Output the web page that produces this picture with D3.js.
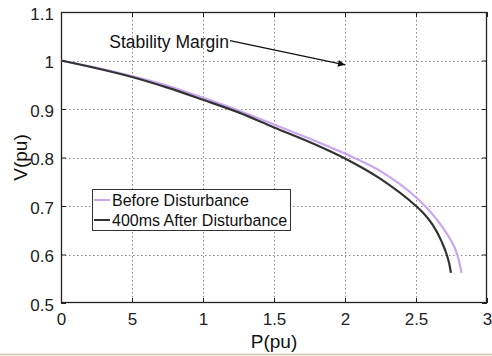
<!DOCTYPE html>
<html>
<head>
<meta charset="utf-8">
<script src="https://cdn.jsdelivr.net/npm/d3@7"></script>
<style>
  html, body { margin: 0; padding: 0; background: #fff; }
  svg { display: block; font-family: "Liberation Sans", Arial, sans-serif; }
</style>
</head>
<body>
<svg id="chart" width="492" height="356"></svg>
<script>
// P-V curves: active power P (pu) against bus voltage V (pu)
const beforeP = [0, 0.25, 0.5, 0.75, 1.0, 1.25, 1.5, 1.75, 2.0, 2.25, 2.5, 2.563, 2.63, 2.69, 2.74, 2.775, 2.79, 2.81, 2.82];
const beforeV = [1.0, 0.985, 0.968, 0.948, 0.923, 0.897, 0.868, 0.839, 0.808, 0.772, 0.718, 0.700, 0.678, 0.655, 0.632, 0.612, 0.600, 0.578, 0.562];

const afterP = [0, 0.25, 0.5, 0.75, 1.0, 1.25, 1.5, 1.75, 2.0, 2.25, 2.5, 2.55, 2.62, 2.68, 2.716, 2.735, 2.746];
const afterV = [1.0, 0.984, 0.966, 0.944, 0.919, 0.893, 0.862, 0.832, 0.798, 0.756, 0.700, 0.686, 0.660, 0.627, 0.600, 0.580, 0.562];

const seriesNames = ["Before Disturbance", "400ms After Disturbance"];
const seriesColors = ["#c9a6f4", "#333333"];

const xTicks = [0, 0.5, 1, 1.5, 2, 2.5, 3];
const xTickLabels = ["0", "5", "1", "1.5", "2", "2.5", "3"];
const yTicks = [0.5, 0.6, 0.7, 0.8, 0.9, 1.0, 1.1];
const yTickLabels = ["0.5", "0.6", "0.7", "0.8", "0.9", "1", "1.1"];

// annotation: text anchor point and arrow tip, in data units
const noteText = "Stability Margin";
const noteFrom = [1.19, 1.041];
const noteTo = [2.0, 0.991];

const svg = d3.select("#chart");
const plotL = 61, plotR = 487, plotT = 12, plotB = 303;

const x = d3.scaleLinear().domain([0, 3]).range([plotL, plotR]);
const y = d3.scaleLinear().domain([0.5, 1.1]).range([plotB, plotT]);

// grid
const grid = svg.append("g").attr("stroke", "#8a8a8a").attr("stroke-width", 1)
  .attr("stroke-dasharray", "1.5,2.5");
grid.selectAll("line.gx").data(xTicks.slice(1, -1)).join("line")
  .attr("x1", d => Math.round(x(d)) + 0.5).attr("x2", d => Math.round(x(d)) + 0.5)
  .attr("y1", plotT).attr("y2", plotB);
grid.selectAll("line.gy").data(yTicks.slice(1, -1)).join("line")
  .attr("y1", d => Math.round(y(d)) + 0.5).attr("y2", d => Math.round(y(d)) + 0.5)
  .attr("x1", plotL).attr("x2", plotR);

// axes with inward ticks on all four sides
const fmtX = (d, i) => xTickLabels[i];
const fmtY = (d, i) => yTickLabels[i];
const axB = svg.append("g").attr("transform", `translate(0,${plotB})`)
  .call(d3.axisBottom(x).tickValues(xTicks).tickFormat(fmtX).tickSizeInner(-5).tickSizeOuter(0).tickPadding(10));
const axL = svg.append("g").attr("transform", `translate(${plotL},0)`)
  .call(d3.axisLeft(y).tickValues(yTicks).tickFormat(fmtY).tickSizeInner(-5).tickSizeOuter(0).tickPadding(7));
const axT = svg.append("g").attr("transform", `translate(0,${plotT})`)
  .call(d3.axisTop(x).tickValues(xTicks).tickFormat("").tickSizeInner(-5).tickSizeOuter(0));
const axR = svg.append("g").attr("transform", `translate(${plotR},0)`)
  .call(d3.axisRight(y).tickValues(yTicks).tickFormat("").tickSizeInner(-5).tickSizeOuter(0));
[axB, axL, axT, axR].forEach(a => {
  a.select(".domain").remove();
  a.selectAll(".tick line").attr("stroke", "#222");
  a.selectAll("text").attr("fill", "#222").style("font-size", "17px")
    .style("font-family", "'Liberation Sans', Arial, sans-serif");
});
axB.selectAll("text").attr("dy", "0.71em");
axL.selectAll("text").attr("dy", "0.42em");

// plot frame
svg.append("rect").attr("x", plotL + 0.5).attr("y", plotT + 0.5)
  .attr("width", plotR - plotL - 1).attr("height", plotB - plotT - 1)
  .attr("fill", "none").attr("stroke", "#222").attr("stroke-width", 1.3);

// curves
const line = d3.line().x(d => x(d[0])).y(d => y(d[1])).curve(d3.curveMonotoneX);
const series = [
  d3.zip(beforeP, beforeV),
  d3.zip(afterP, afterV)
];
svg.append("g").selectAll("path").data(series).join("path")
  .attr("d", line)
  .attr("fill", "none")
  .attr("stroke", (d, i) => seriesColors[i])
  .attr("stroke-width", 2.2)
  .attr("stroke-linejoin", "round");

// annotation with arrow
svg.append("defs").append("marker")
  .attr("id", "arrowhead").attr("viewBox", "0 0 10 10")
  .attr("refX", 10).attr("refY", 5)
  .attr("markerWidth", 9).attr("markerHeight", 7)
  .attr("markerUnits", "userSpaceOnUse")
  .attr("orient", "auto")
  .append("path").attr("d", "M0,0 L10,5 L0,10 Z").attr("fill", "#111");
svg.append("line")
  .attr("x1", x(noteFrom[0])).attr("y1", y(noteFrom[1]))
  .attr("x2", x(noteTo[0])).attr("y2", y(noteTo[1]))
  .attr("stroke", "#111").attr("stroke-width", 1.1)
  .attr("marker-end", "url(#arrowhead)");
svg.append("text")
  .attr("x", x(noteFrom[0]) - 1).attr("y", y(noteFrom[1]) + 7)
  .attr("text-anchor", "end")
  .attr("fill", "#111").style("font-size", "17.5px")
  .text(noteText);

// legend
const lg = svg.append("g").attr("transform", "translate(92,189)");
lg.append("rect").attr("x", 0.5).attr("y", 0.5).attr("width", 198).attr("height", 41)
  .attr("fill", "#fff").attr("stroke", "#333").attr("stroke-width", 1);
seriesNames.forEach((name, i) => {
  const ry = 11 + i * 20;
  lg.append("line").attr("x1", 2).attr("x2", 18).attr("y1", ry).attr("y2", ry)
    .attr("stroke", seriesColors[i]).attr("stroke-width", 2);
  lg.append("text").attr("x", 20).attr("y", ry + 6)
    .attr("fill", "#111").style("font-size", "16px").text(name);
});

// axis titles
svg.append("text").attr("x", (plotL + plotR) / 2).attr("y", 348)
  .attr("text-anchor", "middle").attr("fill", "#111").style("font-size", "19px")
  .text("P(pu)");
svg.append("text")
  .attr("transform", `translate(27,${(plotT + plotB) / 2}) rotate(-90)`)
  .attr("text-anchor", "middle").attr("fill", "#111").style("font-size", "19px")
  .text("V(pu)");

// bottom edge strip
svg.append("line").attr("x1", 0).attr("x2", 492).attr("y1", 354.5).attr("y2", 354.5)
  .attr("stroke", "#c9c5a6").attr("stroke-width", 1.5);
</script>
</body>
</html>
